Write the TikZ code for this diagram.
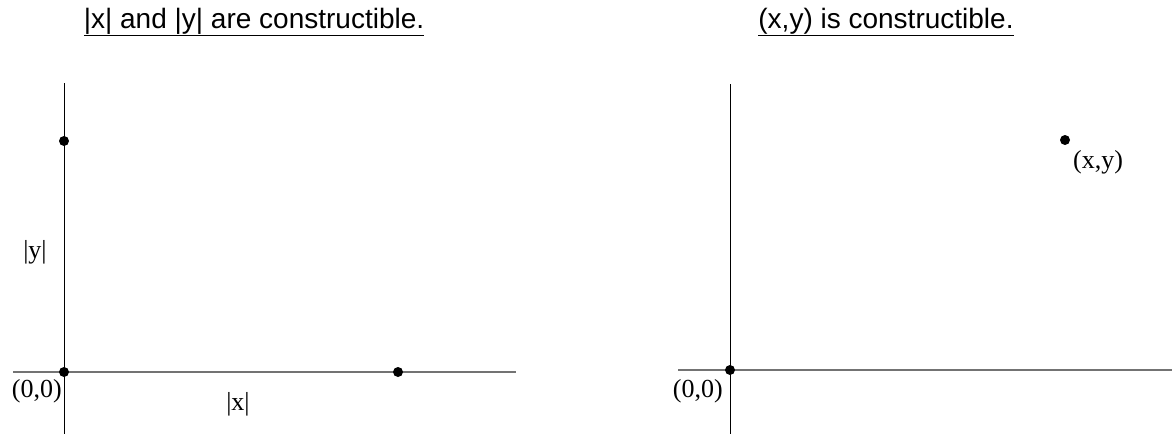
\documentclass[tikz,border=0pt]{standalone}
\usepackage{fontspec}
\setmainfont{Liberation Serif}
\newfontfamily\titlefont{Liberation Sans}
\newcommand{\ulin}[1]{\underline{#1}}
\begin{document}
\begin{tikzpicture}[x=1pt,y=-1pt,
  dot/.style={circle,fill=black,inner sep=0pt,minimum size=10pt},
  ttl/.style={inner sep=0pt,font=\titlefont\fontsize{28}{32}\selectfont,anchor=base},
  lbl/.style={inner sep=0pt,font=\fontsize{26}{30}\selectfont},
  xaxis/.style={draw=black!55,line width=1.4pt},
  yaxis/.style={draw=black,line width=1pt}]
\useasboundingbox (0,0) rectangle (1172,434);
% left panel
\coordinate (LyT) at (64,83);
\coordinate (LyB) at (64,434);
\coordinate (LxL) at (13,372);
\coordinate (LxR) at (516,372);
\draw[xaxis] (LxL) -- (LxR);
\draw[yaxis] (LyT) -- (LyB);
\node[dot] (LO) at (64,372) {};
\node[dot] (LY) at (64,141) {};
\node[dot] (LX) at (398,372) {};
\node[lbl,anchor=east] (LOl) at (62,391) {(0,0)};
\node[lbl] (LXl) at (238,404) {|x|};
\node[lbl] (LYl) at (35,252) {|y|};
\node[ttl] (T1) at (254,28) {\ulin{|x| and |y| are constructible.}};
% right panel
\coordinate (RyT) at (730,84);
\coordinate (RyB) at (730,434);
\coordinate (RxL) at (678,370);
\coordinate (RxR) at (1172,370);
\draw[xaxis] (RxL) -- (RxR);
\draw[yaxis] (RyT) -- (RyB);
\node[dot] (RO) at (730,370) {};
\node[dot] (RP) at (1065,140) {};
\node[lbl,anchor=east] (ROl) at (723,391) {(0,0)};
\node[lbl] (RPl) at (1098,162) {(x,y)};
\node[ttl] (T2) at (886,28) {\ulin{(x,y) is constructible.}};
\end{tikzpicture}
\end{document}
